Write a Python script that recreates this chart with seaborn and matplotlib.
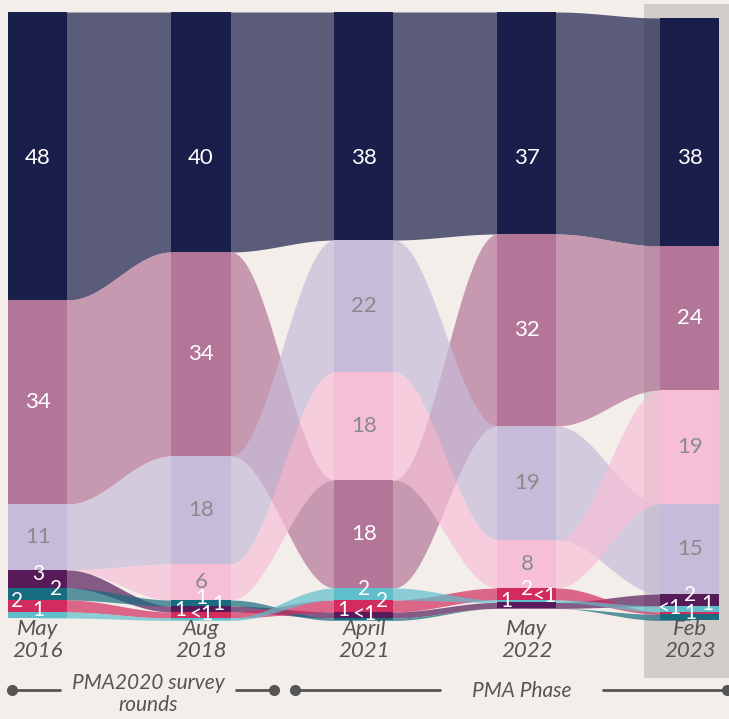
import numpy as np
import pandas as pd
import seaborn as sns
import matplotlib.pyplot as plt
from matplotlib.patches import Rectangle

# survey rounds (x axis)
rounds = ["May\n2016", "Aug\n2018", "April\n2021", "May\n2022", "Feb\n2023"]
groups = ["navy", "mauve", "lavender", "pink", "plum", "teal", "crimson", "cyan"]

# shares in % per round; 0.4 stands for the "<1" cells
navy = [48, 40, 38, 37, 38]
mauve = [34, 34, 18, 32, 24]
lavender = [11, 18, 22, 19, 15]
pink = [0, 6, 18, 8, 19]
plum = [3, 1, 1, 1, 2]
teal = [2, 1, 0.4, 0, 1]
crimson = [2, 1, 2, 2, 0.4]
cyan = [1, 0.4, 2, 0.4, 1]

# stacking order (top to bottom) in each round
order_2016 = ["navy", "mauve", "lavender", "pink", "plum", "teal", "crimson", "cyan"]
order_2018 = ["navy", "mauve", "lavender", "pink", "teal", "plum", "crimson", "cyan"]
order_2021 = ["navy", "lavender", "pink", "mauve", "cyan", "crimson", "plum", "teal"]
order_2022 = ["navy", "mauve", "lavender", "pink", "crimson", "cyan", "plum", "teal"]
order_2023 = ["navy", "mauve", "pink", "lavender", "plum", "cyan", "crimson", "teal"]

colors = sns.color_palette(["#1a1e4a", "#b37598", "#c6bbd9", "#f6bfd6",
                            "#561b58", "#186c7f", "#d22c5f", "#5ebfcb"])
light_groups = ["lavender", "pink"]

df = pd.DataFrame({"navy": navy, "mauve": mauve, "lavender": lavender, "pink": pink,
                   "plum": plum, "teal": teal, "crimson": crimson, "cyan": cyan},
                  index=range(len(rounds)))
orders = [order_2016, order_2018, order_2021, order_2022, order_2023]
col = dict(zip(groups, colors))

# last round sits a little lower in the reference
start = [0, 0, 0, 0, 1]

# top / bottom of each block
tops = {}
for i, order in enumerate(orders):
    y = float(start[i])
    for g in order:
        tops[(i, g)] = (y, y + df.loc[i, g])
        y += df.loc[i, g]

sns.set_theme(style="white")
plt.rcParams["font.family"] = ["Lato", "DejaVu Sans"]
bg = "#f4eeeb"

fig = plt.figure(figsize=(7.29, 7.19), dpi=100, facecolor=bg)
ax = fig.add_axes([0, 0, 1, 1])
ax.set_facecolor(bg)

W, H = 729, 719
x0, step, y0, unit = 38, 163, 12, 6.0
ax.set_xlim(-x0 / step, (W - x0) / step)
ax.set_ylim((H - y0) / unit, -y0 / unit)
ax.axis("off")
bw = 59 / step

# highlight behind latest round
ax.add_patch(Rectangle(((644 - x0) / step, (4 - y0) / unit), (W - 644) / step, 674 / unit,
                       color="#d3cdca", zorder=0, lw=0))

# ribbons (flat under the bars, S-curve in the gaps)
for i in range(len(rounds) - 1):
    xs = np.linspace(i, i + 1, 200)
    t = np.clip((xs - (i + bw / 2)) / (1 - bw), 0, 1)
    s = (1 - np.cos(np.pi * t)) / 2
    for g in groups:
        a0, b0 = tops[(i, g)]
        a1, b1 = tops[(i + 1, g)]
        ax.fill_between(xs, a0 + (a1 - a0) * s, b0 + (b1 - b0) * s,
                        color=col[g], alpha=0.7, lw=0, zorder=1)

# bars
for i, order in enumerate(orders):
    for g in order:
        a, b = tops[(i, g)]
        ax.bar(i, b - a, bottom=a, width=bw, color=col[g], lw=0, zorder=2)

# top block labels share one level
top_level = max(sum(tops[(i, o[0])]) / 2 for i, o in enumerate(orders)) + 0.4

# value labels
small_shift = [0.0, 0.3, -0.35, 0.0]
for i, order in enumerate(orders):
    k = 0
    for j, g in enumerate(order):
        v = df.loc[i, g]
        if v == 0:
            continue
        a, b = tops[(i, g)]
        txt = "<1" if v < 1 else f"{v:.0f}"
        tc = "#8a8a8a" if g in light_groups else "white"
        if v > 3:
            yy = top_level if j == 0 else (a + b) / 2
            ax.text(i, yy, txt, ha="center", va="center", fontsize=16,
                    color=tc, zorder=3)
        else:
            dx = small_shift[k % len(small_shift)] * bw
            ax.text(i + dx, (a + b) / 2 - 0.8, txt, ha="center", va="center", fontsize=15,
                    color=tc, zorder=3)
            k += 1

# round labels
for i, r in enumerate(rounds):
    ax.text(i, (640 - y0) / unit, r, ha="center", va="center", fontsize=16,
            style="italic", color="#555555", linespacing=1.15, zorder=3)

# phase annotations
tr = ax.transAxes
gc = "#555555"
def seg(xa, xb, y, dots):
    ax.plot([xa / W, xb / W], [1 - y / H] * 2, color=gc, lw=2, transform=tr, zorder=3)
    for d in dots:
        ax.plot(d / W, 1 - y / H, "o", color=gc, ms=7, transform=tr, zorder=3)

seg(12, 60, 690, [12])
seg(236, 274, 690, [274])
seg(295, 440, 690, [295])
seg(603, 727, 690, [727])
ax.text(148 / W, 1 - 694 / H, "PMA2020 survey\nrounds", transform=tr, ha="center", va="center",
        fontsize=15, style="italic", color=gc, linespacing=1.1)
ax.text(522 / W, 1 - 691 / H, "PMA Phase", transform=tr, ha="center", va="center",
        fontsize=15, style="italic", color=gc)

fig.savefig("out.png", dpi=100, facecolor=bg)
